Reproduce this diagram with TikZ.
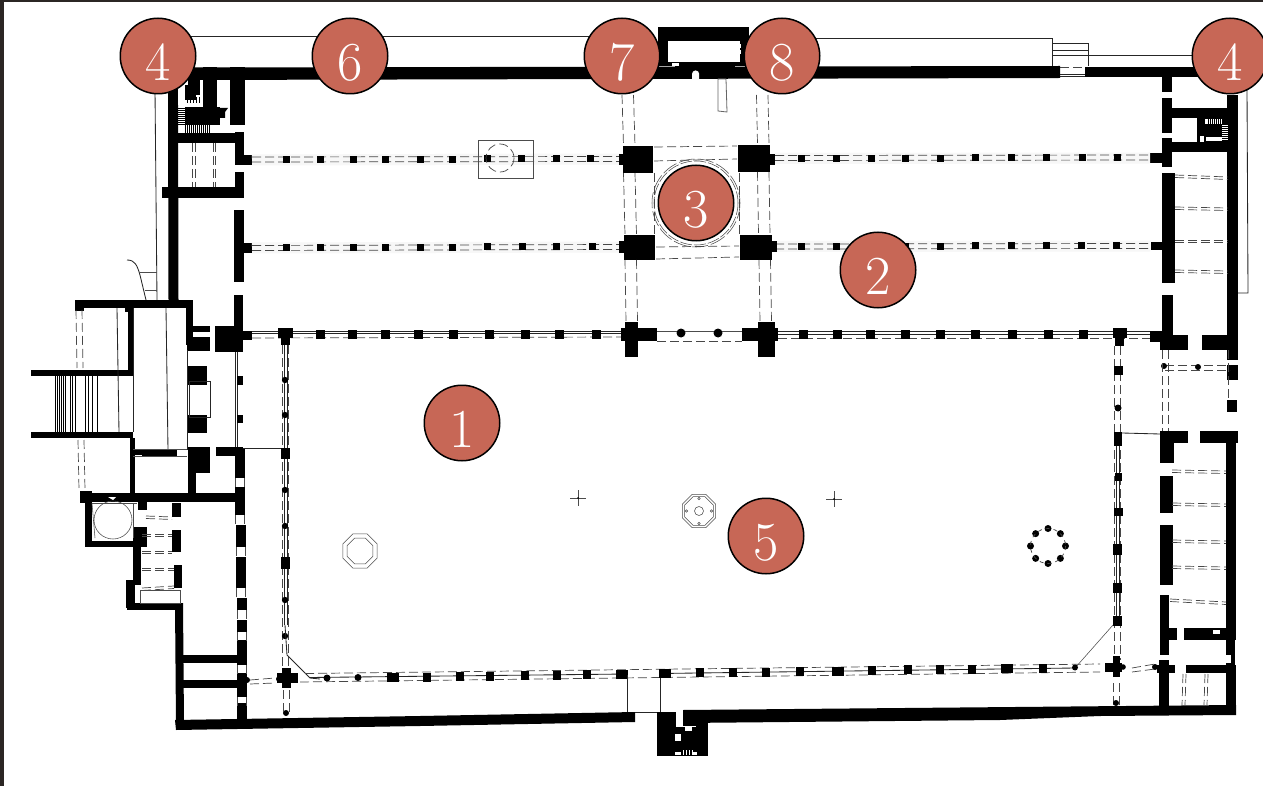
\documentclass[tikz,border=0pt]{standalone}
\definecolor{badgefill}{HTML}{C76756}
\definecolor{edgedark}{HTML}{2B2624}
\tikzset{
  badge/.style={circle,draw=black,line width=1.5pt,fill=badgefill,text=white,minimum size=75.5pt,inner sep=0pt,font=\fontsize{55}{55}\selectfont},
  thinline/.style={draw=black!85,line width=.85pt},
  fineline/.style={draw=black!70,line width=.55pt},
  dashline/.style={draw=black!72,line width=.7pt,dash pattern=on 9pt off 4pt},
  haze/.style={draw=black!3,line width=11pt},
  wall/.style={fill=black},
}
\newcommand{\Num}[1]{\raisebox{-6.5pt}[\height][\depth]{#1}}
\newcommand{\Rects}[1]{\foreach \a/\b/\c/\d in {#1} \fill[wall] (\a,\b) rectangle (\c,\d);}
\newcommand{\Whites}[1]{\foreach \a/\b/\c/\d in {#1} \fill[white] (\a,\b) rectangle (\c,\d);}
\newcommand{\HDash}[1]{\foreach \a/\b/\c/\d in {#1} {\draw[dashline] (\a,\b) -- (\c,\d);\draw[dashline] (\a,\b+5) -- (\c,\d+5);}}
\newcommand{\HDashN}[1]{\foreach \a/\b/\c/\d in {#1} {\draw[dashline] (\a,\b) -- (\c,\d);\draw[dashline] (\a,\b+2.5) -- (\c,\d+2.5);}}
\newcommand{\VDash}[1]{\foreach \a/\b/\c/\d in {#1} {\draw[dashline] (\a,\b) -- (\c,\d);\draw[dashline] (\a+6,\b) -- (\c+6,\d);}}
\newcommand{\VDashW}[1]{\foreach \a/\b/\c/\d in {#1} {\draw[dashline] (\a,\b) -- (\c,\d);\draw[dashline] (\a+11.5,\b) -- (\c+11.5,\d);}}
\newcommand{\VDashN}[1]{\foreach \a/\b/\c/\d in {#1} {\draw[dashline] (\a,\b) -- (\c,\d);\draw[dashline] (\a+2.5,\b) -- (\c+2.5,\d);}}
\begin{document}
\begin{tikzpicture}[x=1pt,y=-1pt]
\useasboundingbox (0,0) rectangle (1263,786);
\fill[white] (0,0) rectangle (1263,786);
\fill[edgedark] (0,0) rectangle (4,786);
\fill[edgedark] (0,0) rectangle (1263,1.8);

% thin outlines outside the walls
\draw[thinline] (190,36) -- (590,36);
\draw[thinline] (815,38.5) -- (1052,38.5) -- (1052,67);
\draw[thinline] (1052,43.5) -- (1088,43.5) -- (1088,66);
\draw[thinline] (1052,50) -- (1088,50);
\draw[thinline] (1052,55) -- (1088,55);
\draw[thinline] (1088,55.5) -- (1195,55.5);
\draw[thinline] (1060,74) -- (1085,74);
\draw[thinline] (1060,76) -- (1085,76);
\draw[dashline] (1060,67.5) -- (1085,67.5);
\draw[thinline] (1247,90) -- (1248,293) -- (1237,293);
\draw[thinline] (155,90) -- (157,300);
\draw[thinline] (127,260) .. controls (135,260) and (137,265) .. (140,275) -- (146,300);
\draw[fineline] (139,272) -- (157,272);
\draw[fineline] (145,290) -- (157,290);

% main walls
\fill[wall] (178,67.5) -- (1060,66) -- (1060,78) -- (178,80) -- cycle;
\fill[wall] (1085,67) -- (1228,67) -- (1228,77) -- (1085,77) -- cycle;
\fill[wall] (175,720) -- (420,716) -- (635,712) -- (635,722) -- (420,726) -- (176,730) -- cycle;
\fill[wall] (683,710) -- (1236,705) -- (1236,715) -- (1100,716) -- (1000,720) -- (683,723) -- cycle;
\fill[wall] (168,80) -- (178,80) -- (178.5,300) -- (168.5,300) -- cycle;
\fill[wall] (175,603) -- (183,603) -- (184,725) -- (176,725) -- cycle;

% north gate
\Rects{658/27/749/66, 675/62/735/68}
\Whites{668/41/740/62, 738/44/741/48, 738/50/741/54, 672/63/679/66}
\fill[white] (692,80) -- (692,74) arc (180:360:3.6) -- (699,80) -- cycle;
\draw[draw=black!60,line width=.8pt,fill=white] (718,79) -- (726,79) -- (727,112) -- (718,111) -- cycle;
% south gate
\Rects{657/712/676/756, 657/745/708/756, 683/712/708/726, 696/720/708/756, 675/727/697/745}
\Whites{675/752/681/755, 693/752/697/755, 685/727/692/731, 675/734/681/741}
\foreach \x in {683,686,689,692} \draw[white,line width=.6pt] (\x,750) -- (\x,755);

% north-west stair tower
\Rects{203/67/217/107, 230/67/245/125, 185/107/220/125, 185/85/197/100, 178/133/235/143, 235/132/244/165, 243/155/252/165, 235/172/244/198, 162/187/244/198, 234/210/244/282, 243/243/252/253, 234/295/243/330, 215/326/243/352, 243/331/252/340}
\Whites{178/80/185/105, 196/80/203/107}
\fill[wall] (188,80) rectangle (200,95);
\foreach \y in {108,110,...,124} \draw[black,line width=.5pt] (178,\y) -- (185,\y);
\foreach \x in {185,187,...,209} \draw[black,line width=.5pt] (\x,125) -- (\x,133);
\foreach \x in {187,190,193,196,199} \draw[black,line width=.5pt] (\x,97) -- (\x,103);
\fill[wall] (220,108) -- (228,108) -- (225,112) -- (225,118) -- (220,118) -- cycle;
\VDashN{192.5/143/192.5/187, 213/143/213/187}

% west wing
\Rects{75/300/193/308, 75/300/84/311, 125/306/133/312, 186/300/193/345, 128/308/133/375, 31/370/133/376, 31/432/133/438, 130/438/135/495, 190/326/210/332, 187/337/210/351, 187/366/207/385, 188/415/207/433, 133/450/143/455, 142/450/158/456, 157/450/177/456, 216/447/243/456, 188/447/210/473, 188/473/196/495, 80/493/243/502, 80/491/92/503, 85/503/92/547, 85/541/147/547, 133/527/147/547, 138/502/147/510, 133/547/141/585, 126/580/135/608, 127/603/182/610, 172/503/181/517, 172/530/181/552, 174/565/182/588, 180/655/238/663, 180/680/238/688}
\foreach \y/\z/\u in {448/478/234.5, 487/515/235, 525/547/235.5, 557/588/236, 598/610/236.5, 620/632/237, 640/665/237, 673/697/237, 703/720/237}
  \fill[wall] (\u,\y) rectangle (\u+10,\z);
\foreach \y/\u in {478/235, 515/235.5, 547/236, 588/236.5, 610/237, 632/237.5, 665/237.5, 697/237.5} {
  \draw[fineline] (\u,\y) -- (\u,\y+9);
  \draw[fineline] (\u+9,\y) -- (\u+9,\y+9);
}
\foreach \x in {55,57,59,61,63,65,70,72,75,85,88,92,97} \draw[black,line width=.5pt] (\x,376) -- (\x,432);
\draw[thinline] (117,308) -- (119,432);
\draw[thinline] (133,308) -- (133,432);
\draw[thinline] (166,308) -- (168,450);
\draw[thinline] (187,350) -- (187,450);
\draw[thinline] (235,352) -- (235,447);
\draw[thinline] (237,352) -- (237,447);
\draw[thinline] (189,381) rectangle (210,417);
\draw[fineline] (133,449) -- (187,449);
\draw[fineline] (133,456) -- (187,456);
\draw[thinline] (243,448) -- (282,448);
\Rects{237/376/243/385, 237/415/243/423}
\VDash{76/310/77/368, 78/440/79/490}
\draw[fineline] (92,503) -- (137,503);
\draw[fineline] (92,503) -- (95,538);
\draw[fineline] (133,503) -- (133,538);
\draw[fineline] (113,520) circle (19);
\fill[white] (108,497) -- (116,497) -- (113,500) -- cycle;
\HDashN{146/516/172/517, 142/534/172/534, 142/551/172/551, 142/568/174/568, 142/588/174/586}
\draw[fineline] (140,590) rectangle (180,603);

% east range
\Rects{1162/67/1172/92, 1162/98/1172/133, 1162/138/1172/167, 1162/173/1175/283, 1162/295/1173/340, 1160/335/1188/350, 1202/335/1237/350, 1150/153/1172/163, 1151/242/1172/250, 1150/331/1172/342, 1172/108/1230/118, 1172/142/1238/152, 1227/95/1238/360, 1197/118/1228/142, 1227/365/1238/380, 1227/400/1237/412}
\Whites{1205/119/1222/124, 1222/125/1228/140, 1200/136/1204/142, 1206/137/1222/141}
\foreach \x in {1208,1210,...,1220} \draw[black,line width=.5pt] (\x,118) -- (\x,124);
\foreach \y in {126,128,...,138} \draw[black,line width=.5pt] (1222,\y) -- (1228,\y);
\HDashN{1175/175/1228/177, 1175/207/1228/208, 1175/240/1228/240, 1175/270/1228/271}
\HDash{1165/365/1230/365}
\foreach \p/\q in {1164/366, 1198/367} \fill[wall] (\p,\q) circle (3);
\draw[dashline] (1162,350) -- (1162,431);
\draw[dashline] (1168,350) -- (1168,431);
\draw[dashline] (1228,350) -- (1228,400);
\Rects{1160/431/1188/443, 1200/431/1238/443, 1160/431/1174/463, 1160/476/1173/513, 1160/525/1173/585, 1160/595/1169/650, 1160/628/1177/640, 1184/628/1236/640, 1226/431/1236/640, 1226/640/1235/665, 1157/665/1175/673, 1186/665/1236/673, 1159/660/1169/712, 1226/665/1236/712, 1160/650/1169/655}
\Whites{1177/630/1184/638, 1213/630/1220/634, 1226/655/1231/663}
\fill[wall] (1155,667) circle (3);
\HDashN{1172/470/1226/471, 1172/503/1226/504, 1172/540/1226/541, 1172/566/1226/567, 1170/599/1226/602}
\foreach \x in {1183,1186,1205,1208} \draw[dashline] (\x,674) -- (\x-1,705);
\draw[thinline] (1122,433) -- (1160,434);
\draw[dashline] (1132,668) -- (1155,664);
\draw[dashline] (1132,672) -- (1155,669);

% colonnade around the court, north side
\draw[thinline] (252,331) -- (622,331);
\draw[thinline] (252,333.5) -- (622,333.5);
\draw[dashline] (252,338) -- (622,337);
\draw[thinline] (778,331) -- (1150,331);
\draw[thinline] (778,334) -- (1150,334);
\draw[dashline] (778,338) -- (1150,338);
\draw[fineline] (657,331) -- (742,331);
\draw[dashline] (657,341) -- (742,341);
\foreach \x in {320,352,385,418,453,489,525,559,596,803,837,870,905,940,975,1012,1048,1083}
  \fill[wall] (\x-4.5,329.5) rectangle (\x+4.5,338.5);
\foreach \x in {681,718} \fill[wall] (\x,333) circle (4.5);
\Rects{278/328/293/338, 281/338/290/345, 1113/328/1127/338, 1115/338/1124/346, 625/322/638/357, 621/328/657/341, 758/322/775/357, 742/328/778/341}

% two inner arcades
\draw[haze] (252,160) -- (620,159);
\draw[haze] (775,158.5) -- (1150,158);
\draw[haze] (252,248) -- (620,247);
\draw[haze] (775,246.5) -- (1150,246);
\HDash{252/157/620/156.5, 775/155.5/1150/155, 252/245.5/620/244.5, 775/244/1150/243.5}
\foreach \x/\y in {286/160,320/160,353/160,385/160,420/159.5,452/159.5,487/159,521/159,556/159,590/159,801/158.5,836/158.5,871/158.5,905/158.5,940/158.5,975/158,1011/158,1046/158,1082/158,1117/158}
  \fill[wall] (\x-3.5,\y-3.5) rectangle (\x+3.5,\y+3.5);
\foreach \x/\y in {286/248,320/248,353/248,385/248,420/247.5,452/247.5,487/247,522/247,556/247,592/247,801/246.5,836/246.5,871/246.5,905/246.5,940/246.5,975/246,1011/246,1046/246,1081/246,1116/246}
  \fill[wall] (\x-3.5,\y-3.5) rectangle (\x+3.5,\y+3.5);

% box with dashed circle
\draw[fineline] (478,140) rectangle (533,178);
\draw[dashline,dash pattern=on 9pt off 4pt] (500,158) circle (14);

% crossing piers and dome
\Rects{623/146/653/173, 619/154/623/165, 738/145/770/172, 770/154/775/165, 624/235/655/260, 619/241/624/253, 740/235/772/260, 772/241/777/252}
\VDashW{622/95/623.5/146, 756.5/95/757.5/145, 623.5/173/625/235, 757.5/172/758.5/235, 625/260/626/322, 759/260/760/322}
\draw[dashline] (654,147) -- (737,146);
\draw[dashline] (654,161) -- (737,159);
\draw[dashline] (656,247) -- (739,246);
\draw[dashline] (656,259) -- (739,257);
\draw[dashline] (654,173) -- (654,235);
\draw[dashline] (739,173) -- (739,235);
\draw[fineline,dash pattern=on 12pt off 2pt] (696,203) circle (42);
\draw[fineline,dash pattern=on 16pt off 3pt] (696,203) circle (44);

% west colonnade
\VDash{282/345/282/670, 1114/346/1114/660}
\draw[thinline] (284,345) -- (284,625);
\draw[thinline] (287,345) -- (287,625);
\draw[thinline] (1116,440) -- (1116,621);
\draw[thinline] (1119,440) -- (1119,621);
\foreach \y/\s in {380/3.2,415/3.2,490/3.2,526/3.2,600/3.2,636/3.2} \fill[wall] (285,\y) circle (\s);
\Rects{281/448/290/459, 281/557/290/569}
\Rects{282/668/291/688, 277/673/298/683}
\fill[wall] (286,713) circle (3);
\VDash{283/690/283/712, 1113/683/1113/705}
% east colonnade
\Rects{1114/366/1123/375, 1114/432/1122/446, 1115/473/1122/481, 1114/508/1123/516, 1113/544/1122/555, 1113/583/1122/593, 1113/616/1122/626, 1113/656/1120/677, 1105/663/1122/672}
\fill[wall] (1118,408) circle (3.5);
\fill[wall] (1123,667) circle (2.8);
\fill[wall] (1116,703) circle (3);
\draw[thinline] (285,625) -- (287,655) -- (310,678) -- (320,679);
\draw[fineline] (1113,625) -- (1075,668);

% south colonnade
\draw[thinline] (310,677.5) -- (627,674);
\draw[thinline] (660,673.5) -- (1075,668);
\draw[dashline] (305,673.5) -- (1100,664);
\draw[dashline] (300,682) -- (1100,672);
\draw[dashline] (250,680) -- (275,678);
\draw[dashline] (250,684) -- (275,683);
\fill[wall] (247,680) circle (3);
\fill[wall] (279,679) circle (3);
\foreach \x/\y in {427/677, 460/676.5, 490/676, 525/675.5, 557/675, 587/674.5, 700/672.5, 733/672, 766/672, 800/671, 872/670, 908/669.5, 940/669, 972/669, 1043/668}
  \fill[wall] (\x-4,\y-4.5) rectangle (\x+4,\y+4.5);
\foreach \x/\y in {393/677, 622/674.5, 665/673.5, 838/671, 1007/668} \fill[wall] (\x-6,\y-4.5) rectangle (\x+6,\y+4.5);
\fill[wall] (1075,667.5) circle (3);
\fill[wall] (327,678) circle (3.5);
\fill[wall] (358,677.5) circle (3.5);
\draw[thinline] (627,675) -- (627,712);
\draw[thinline] (660,678) -- (660,712);
\draw[thinline] (635,712) -- (657,712);

% court furniture
\foreach \cx/\cy/\rr in {360/551/18.5, 360/551/14, 699/511/18, 699/511/15.5}
  \draw[fineline,shift={(\cx,\cy)}] (22.5:\rr) -- (67.5:\rr) -- (112.5:\rr) -- (157.5:\rr) -- (202.5:\rr) -- (247.5:\rr) -- (292.5:\rr) -- (337.5:\rr) -- cycle;
\draw[fineline] (699,511) circle (4.5);
\foreach \k in {0,90,180,270} \draw[fineline,shift={(699,511)}] (\k:12.5) circle (1.2);
\foreach \p/\q in {578/498, 834/499} {
  \draw[fineline] (\p-8,\q) -- (\p+8,\q);
  \draw[fineline] (\p,\q-8) -- (\p,\q+8);
  \fill[wall] (\p,\q) circle (1);
}
\foreach \k in {0,45,90,135,180,225,270,315} \fill[wall,shift={(1048,546)}] (\k:17.5) circle (3.5);
\draw[dashline,dash pattern=on 4pt off 4pt] (1048,546) circle (17.5);

% numbered badges
\node[badge] (b4l) at (158,56) {\Num{4}};
\node[badge] (b6) at (350,56) {\Num{6}};
\node[badge] (b7) at (622,56) {\Num{7}};
\node[badge] (b8) at (782,56) {\Num{8}};
\node[badge] (b4r) at (1230,56) {\Num{4}};
\node[badge] (b3) at (696,203) {\Num{3}};
\node[badge] (b2) at (878,270) {\Num{2}};
\node[badge] (b1) at (462,423) {\Num{1}};
\node[badge] (b5) at (766,536) {\Num{5}};
\end{tikzpicture}
\end{document}
